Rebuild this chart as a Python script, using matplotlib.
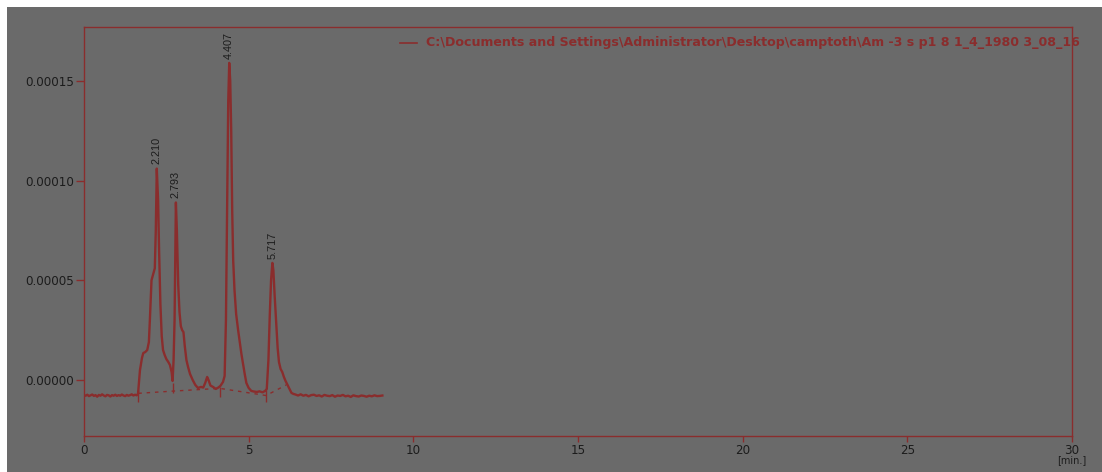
import matplotlib
matplotlib.use("Agg")
import matplotlib.pyplot as plt
from matplotlib.patches import Rectangle
from matplotlib.ticker import FuncFormatter

# retention time [min] and detector signal
rt = [0.00, 0.05, 0.10, 0.15, 0.20, 0.25, 0.30, 0.35, 0.40, 0.45, 0.50, 0.55,
      0.60, 0.65, 0.70, 0.75, 0.80, 0.85, 0.90, 0.95, 1.00, 1.05, 1.10, 1.15,
      1.20, 1.25, 1.30, 1.35, 1.40, 1.45, 1.50, 1.55, 1.60, 1.64,
      1.70, 1.76, 1.80, 1.86, 1.92, 1.97, 2.00, 2.05, 2.10, 2.15, 2.18, 2.21,
      2.25, 2.28, 2.32, 2.36, 2.40, 2.45, 2.50, 2.56, 2.61, 2.66, 2.69,
      2.72, 2.75, 2.79, 2.82, 2.86, 2.90, 2.94, 2.98, 3.02, 3.06, 3.11, 3.16,
      3.22, 3.30, 3.38, 3.46, 3.55, 3.62, 3.68, 3.74, 3.78, 3.84, 3.92, 4.00,
      4.06, 4.14, 4.22, 4.27, 4.31, 4.35, 4.38, 4.41, 4.44, 4.47, 4.50, 4.53,
      4.57, 4.62, 4.68, 4.73, 4.78, 4.83, 4.88, 4.93, 5.00, 5.08, 5.16, 5.25,
      5.33, 5.42, 5.50, 5.55, 5.60, 5.64, 5.68, 5.72, 5.75, 5.79, 5.84, 5.88,
      5.92, 5.97, 6.02, 6.07, 6.12, 6.18, 6.24, 6.30, 6.36, 6.42, 6.50, 6.58,
      6.66, 6.74, 6.82, 6.90, 6.98, 7.06, 7.14, 7.22, 7.30, 7.38, 7.46, 7.54,
      7.62, 7.70, 7.78, 7.86, 7.94, 8.02, 8.10, 8.18, 8.26, 8.34, 8.42, 8.50,
      8.58, 8.66, 8.74, 8.82, 8.90, 8.98, 9.06]
signal_e6 = [-7.6, -7.9, -7.4, -8.1, -7.7, -7.3, -8.0, -7.6, -8.4, -7.5, -7.9, -7.2,
             -7.8, -8.2, -7.5, -7.7, -8.3, -7.6, -7.9, -7.4, -8.0, -7.6, -7.9, -7.3,
             -7.8, -8.1, -7.5, -7.9, -7.6, -7.2, -7.8, -7.4, -7.7, -7.0,
             5.0, 11.0, 13.5, 14.0, 15.0, 19.0, 30.0, 50.0, 53.0, 56.0, 75.0, 106.0,
             90.0, 65.0, 38.0, 22.0, 15.0, 12.5, 10.5, 9.0, 7.5, 4.0, -0.5,
             10.0, 30.0, 89.0, 75.0, 48.0, 34.0, 27.0, 25.0, 24.0, 17.0, 10.0, 6.5,
             3.0, 0.0, -2.5, -4.0, -3.5, -3.8, -1.5, 1.5, 0.0, -2.8, -3.5, -4.5,
             -4.0, -3.0, -1.0, 2.0, 30.0, 90.0, 140.0, 159.0, 150.0, 125.0, 85.0, 60.0,
             45.0, 33.0, 25.0, 19.0, 13.0, 8.0, 3.0, -1.5, -4.0, -5.5, -5.8, -6.0,
             -5.7, -6.2, -5.5, -4.5, 10.0, 32.0, 50.0, 58.7, 55.0, 42.0, 28.0, 16.0,
             9.0, 5.5, 4.0, 1.5, -0.5, -2.5, -4.5, -6.5, -7.0, -7.3, -7.8, -7.2,
             -7.9, -7.5, -8.2, -7.6, -7.4, -8.0, -7.7, -8.3, -7.5, -7.9, -8.1, -7.6,
             -8.4, -7.8, -8.0, -7.5, -8.2, -7.9, -8.5, -7.7, -8.1, -8.3, -7.8, -8.0,
             -8.4, -7.9, -8.2, -7.7, -8.1, -8.0, -7.8]

# integration baseline (dashed) and peak boundary marks
base_rt = [1.65, 2.69, 4.12, 5.53, 6.14]
base_e6 = [-6.7, -5.6, -4.2, -7.8, -2.5]
mark_rt = [1.65, 2.69, 4.12, 5.53]
mark_lo_e6 = [-11.0, -6.5, -8.3, -11.0]
mark_hi_e6 = [-5.0, -1.5, -3.3, -5.0]

peak_rt = [2.210, 2.793, 4.407, 5.717]
peak_lbl = ["2.210", "2.793", "4.407", "5.717"]
peak_top_e6 = [106.0, 89.0, 159.0, 58.7]

legend_txt = ("C:\\Documents and Settings\\Administrator\\Desktop\\camptoth"
              "\\Am -3 s p1 8 1_4_1980 3_08_16")

red = "#8a2d2d"
bg = "#6a6a6a"
ink = "#1c1c1c"

fig = plt.figure(figsize=(11.02, 4.72), dpi=100, facecolor="white")
fig.patches.append(Rectangle((7 / 1102, 0), 1, 1 - 7 / 472, transform=fig.transFigure,
                             facecolor=bg, edgecolor="none", zorder=-10))
ax = fig.add_axes([84 / 1102, 1 - 436 / 472, 988 / 1102, 409 / 472])
ax.set_facecolor(bg)

sig = [v * 1e-6 for v in signal_e6]
ax.plot(rt, sig, color=red, lw=1.7)
ax.plot(base_rt, [v * 1e-6 for v in base_e6], color=red, lw=1.0, ls=(0, (2.5, 3.5)))
ax.vlines(mark_rt, [v * 1e-6 for v in mark_lo_e6], [v * 1e-6 for v in mark_hi_e6],
          color=red, lw=1.0)

for t, s, top in zip(peak_rt, peak_lbl, peak_top_e6):
    ax.annotate(s, (t, top * 1e-6), xytext=(0, 3), textcoords="offset points",
                rotation=90, ha="center", va="bottom", color=ink, fontsize=7.8,
                family=["Liberation Sans Narrow", "Liberation Sans"])

ax.set_xlim(0, 30)
ax.set_ylim(-2.81e-5, 1.770e-4)
ax.set_xticks([0, 5, 10, 15, 20, 25, 30])
ax.set_yticks([0, 5e-5, 1e-4, 1.5e-4])
ax.yaxis.set_major_formatter(FuncFormatter(lambda v, p: f"{v:.5f}"))
for sp in ax.spines.values():
    sp.set_color(red)
    sp.set_linewidth(1.0)
ax.tick_params(axis="y", colors=red, length=6, width=1, pad=1, labelcolor=ink, labelsize=8.6)
ax.tick_params(axis="x", colors=red, length=4, width=1, pad=1.5, labelcolor=ink, labelsize=8.6)

fig.text(1072 / 1102, 1 - 460 / 472, "[min.]", ha="center", va="center",
         color=ink, fontsize=7)

fig.lines.append(plt.Line2D([400 / 1102, 417 / 1102], [1 - 42.5 / 472] * 2,
                            transform=fig.transFigure, color=red, lw=1.2))
fig.text(426 / 1102, 1 - 42.5 / 472, legend_txt, ha="left", va="center",
         color=red, fontsize=9.1, fontweight="bold", family="DejaVu Sans")

fig.savefig("out.png", dpi=100, facecolor=fig.get_facecolor())
